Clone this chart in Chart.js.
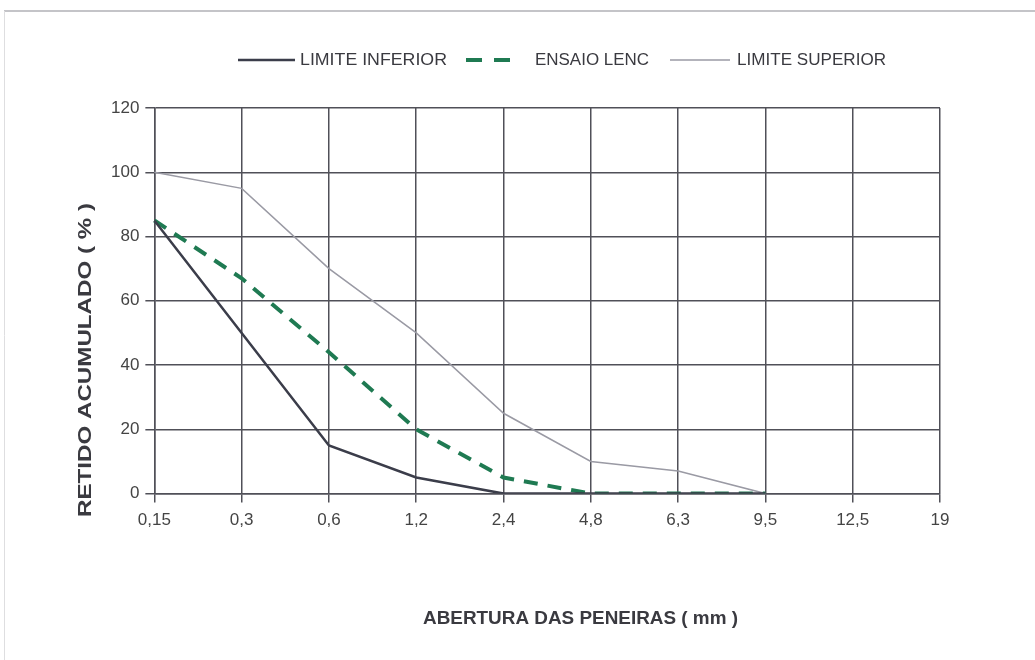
<!DOCTYPE html>
<html>
<head>
<meta charset="utf-8">
<script src="https://cdn.jsdelivr.net/npm/chart.js@4.4.1/dist/chart.umd.min.js"></script>
<style>
  html, body { margin: 0; padding: 0; background: #fff; }
  #wrap { width: 1035px; height: 660px; position: relative; }
</style>
</head>
<body>
<div id="wrap"><canvas id="chart"></canvas></div>
<script>
// peneiras (mm)
const sieves = ['0,15', '0,3', '0,6', '1,2', '2,4', '4,8', '6,3', '9,5', '12,5', '19'];
const limiteInferior = [85, 50, 15, 5, 0, 0, 0, 0, null, null];
const ensaioLenc = [85, 67, 44, 20, 5, 0, 0, 0, null, null];
const limiteSuperior = [100, 95, 70, 50, 25, 10, 7, 0, null, null];
const yTicks = [0, 20, 40, 60, 80, 100, 120];
const xTitle = 'ABERTURA DAS PENEIRAS ( mm )';
const yTitle = 'RETIDO ACUMULADO ( % )';

const FONT = '"Liberation Sans", Arial, sans-serif';

// draws a text squeezed/stretched to a given width (the original uses a condensed face)
function fitText(c, text, x, y, width) {
    const w = c.measureText(text).width;
    c.save();
    c.translate(x, y);
    c.scale(width / w, 1);
    c.fillText(text, 0, 0);
    c.restore();
}

// legend + axis titles, placed like the scanned original
const decorations = {
    id: 'decorations',
    beforeDraw(chart) {
        const c = chart.ctx;
        c.save();
        c.strokeStyle = '#c4c4c8';
        c.lineWidth = 2;
        c.beginPath();
        c.moveTo(4, 11); c.lineTo(1035, 11);
        c.stroke();
        c.strokeStyle = '#dedee0';
        c.lineWidth = 1;
        c.beginPath();
        c.moveTo(4.5, 11); c.lineTo(4.5, 660);
        c.stroke();
        c.restore();
    },
    afterDraw(chart) {
        const c = chart.ctx;
        c.save();
        c.fillStyle = '#3a3a40';
        c.textBaseline = 'middle';

        // legend
        c.font = '16px ' + FONT;
        const items = [
            { ds: chart.data.datasets[0], x0: 238, x1: 295, tx: 300, tw: 147 },
            { ds: chart.data.datasets[1], x0: 466, x1: 516, tx: 535, tw: 114 },
            { ds: chart.data.datasets[2], x0: 670, x1: 730, tx: 737, tw: 149 }
        ];
        const ly = 60;
        items.forEach(it => {
            c.save();
            c.strokeStyle = it.ds.borderColor;
            c.lineWidth = it.ds.borderWidth;
            c.setLineDash(it.ds.borderDash ? [16, 12] : []);
            c.beginPath();
            c.moveTo(it.x0, ly);
            c.lineTo(it.x1, ly);
            c.stroke();
            c.restore();
            fitText(c, it.ds.label, it.tx, ly + 1, it.tw);
        });

        // x title
        c.font = 'bold 18px ' + FONT;
        fitText(c, xTitle, 423, 619, 315);

        // y title, rotated
        c.font = 'bold 19px ' + FONT;
        c.translate(86, 517);
        c.rotate(-Math.PI / 2);
        fitText(c, yTitle, 0, 0, 314);
        c.restore();
    }
};

const ctx = document.getElementById('chart');
new Chart(ctx, {
    type: 'line',
    data: {
        labels: sieves,
        datasets: [
            {
                label: 'LIMITE INFERIOR',
                data: limiteInferior,
                borderColor: '#3b3d4a',
                backgroundColor: '#3b3d4a',
                borderWidth: 2.5,
                pointRadius: 0,
                tension: 0
            },
            {
                label: 'ENSAIO LENC',
                data: ensaioLenc,
                borderColor: '#1f7a52',
                backgroundColor: '#1f7a52',
                borderWidth: 4,
                borderDash: [14, 10],
                pointRadius: 0,
                tension: 0
            },
            {
                label: 'LIMITE SUPERIOR',
                data: limiteSuperior,
                borderColor: '#9a9aa4',
                backgroundColor: '#9a9aa4',
                borderWidth: 1.5,
                pointRadius: 0,
                tension: 0
            }
        ]
    },
    options: {
        responsive: true,
        maintainAspectRatio: false,
        animation: false,
        layout: { padding: { left: 105, right: 95, top: 108, bottom: 121 } },
        plugins: {
            tooltip: { enabled: false },
            legend: { display: false }
        },
        scales: {
            x: {
                offset: false,
                grid: { color: '#505058', lineWidth: 1.5, tickLength: 9, tickColor: '#505058' },
                border: { color: '#505058', width: 1.5 },
                ticks: { color: '#444', font: { family: FONT, size: 17 }, padding: 8 }
            },
            y: {
                min: 0,
                max: 120,
                afterBuildTicks: (axis) => { axis.ticks = yTicks.map(v => ({ value: v })); },
                grid: { color: '#505058', lineWidth: 1.5, tickLength: 9, tickColor: '#505058' },
                border: { color: '#505058', width: 1.5 },
                ticks: { color: '#444', font: { family: FONT, size: 17 }, padding: 6 }
            }
        }
    },
    plugins: [decorations]
});
</script>
</body>
</html>
